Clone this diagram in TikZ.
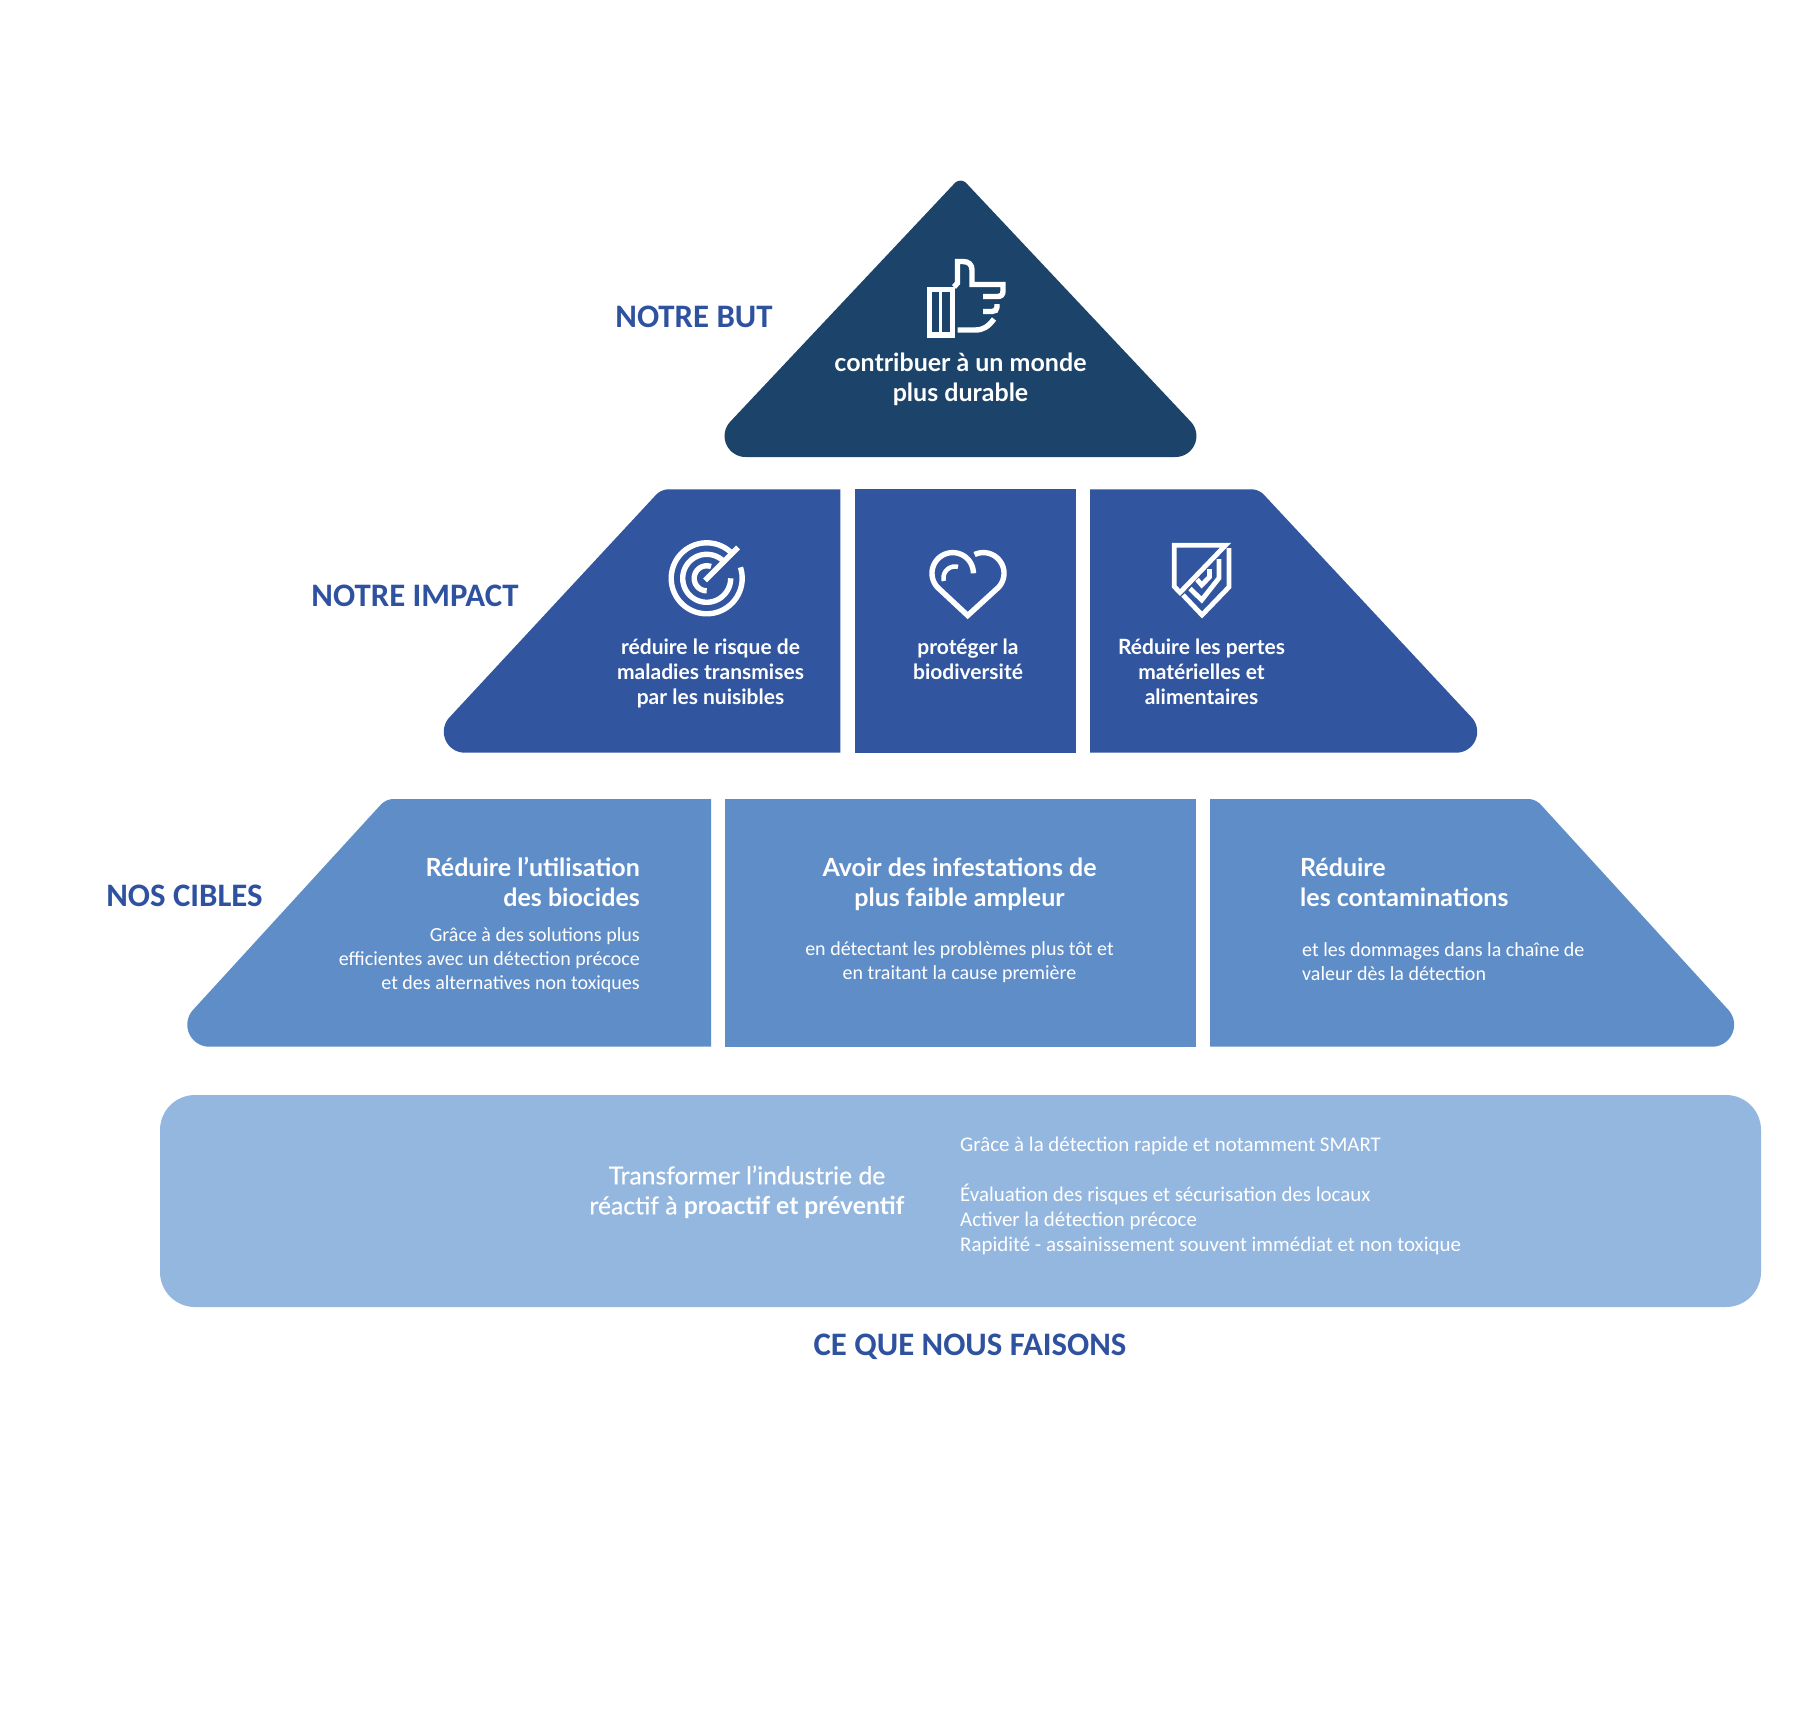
\documentclass[tikz,border=0pt]{standalone}
\usepackage{fontspec}
\setmainfont{Lato}
\newfontfamily\narrowfont{Carlito}
\newfontfamily\medfont[FakeBold=0.35]{Lato}
\definecolor{cDark}{HTML}{1C4369}
\definecolor{cMid}{HTML}{31569F}
\definecolor{cLight}{HTML}{5F8DC8}
\definecolor{cBase}{HTML}{94B7E0}
\definecolor{cLabel}{HTML}{2F52A0}
\tikzset{
  title/.style={text=cLabel,font=\narrowfont\fontsize{32.8}{34}\selectfont\bfseries,inner sep=0pt},
  headA/.style={text=white,font=\fontsize{25}{30}\selectfont\bfseries,inner sep=0pt,align=center},
  headB/.style={text=white,font=\fontsize{21}{25}\selectfont\bfseries,inner sep=0pt,align=center},
  headC/.style={text=white,font=\fontsize{25}{30}\selectfont\bfseries,inner sep=0pt},
  bodyT/.style={text=white,font=\narrowfont\fontsize{20}{24}\selectfont,inner sep=0pt},
  bodyU/.style={text=white,font=\narrowfont\fontsize{20.9}{25}\selectfont,inner sep=0pt},
  iconline/.style={draw=white,line width=5.4pt,fill=none,miter limit=10},
  arcm/.style n args={5}{insert path={plot[domain=#4:#5,samples=30] ({#1+#3*cos(\x)},{#2-#3*sin(\x)})}},
  arcl/.style n args={5}{insert path={-- plot[domain=#4:#5,samples=30] ({#1+#3*cos(\x)},{#2-#3*sin(\x)})}},
}
\begin{document}
\begin{tikzpicture}[x=1pt,y=-1pt]
\useasboundingbox (0,0) rectangle (1820,1731);
\fill[white] (0,0) rectangle (1820,1731);
% tier 1
\fill[cDark,arcm={745.6}{436}{21}{136.75}{270},arcl={1175.4}{436}{21}{-90}{43.25},arcl={960.5}{188.7}{8}{43.25}{136.75}] -- cycle;
% tier 2
\fill[cMid] (840.4,489.3) [arcl={669}{507.3}{18}{90}{137.1},arcl={464.8}{731.7}{21}{137.1}{270}] -- (840.4,752.7) -- cycle;
\fill[cMid] (854.7,489.3) rectangle (1075.6,752.7);
\fill[cMid] (1090,752.7) [arcl={1456.2}{731.7}{21}{-90}{42.9},arcl={1251}{507.3}{18}{42.9}{90}] -- (1090,489.3) -- cycle;
% tier 3
\fill[cLight] (711,799) [arcl={394}{817.2}{18.2}{90}{137.55},arcl={209.3}{1024.7}{22}{137.55}{270}] -- (711,1046.7) -- cycle;
\fill[cLight] (725,799) rectangle (1195.5,1046.7);
\fill[cLight] (1210,1046.7) [arcl={1712.1}{1024.7}{22}{-90}{42.45},arcl={1527.6}{817.2}{18.2}{42.45}{90}] -- (1210,799) -- cycle;
% base
\fill[cBase] [rounded corners=35pt] (160,1095) rectangle (1761,1307);
% labels
\node[title] (but) at (694,317) {NOTRE BUT};
\node[title] (impact) at (415,596) {NOTRE IMPACT};
\node[title] (cibles) at (184.5,896) {NOS CIBLES};
\node[title] (faisons) at (970,1347) {CE QUE NOUS FAISONS};
% tier 1 text
\node[headA] (t1) at (960.5,379.3) {contribuer à un monde\\plus durable};
% tier 2 text
\node[headB] (t2a) at (710.5,673) {réduire le risque de\\maladies transmises\\par les nuisibles};
\node[headB] (t2b) at (968,659.5) {protéger la\\biodiversité};
\node[headB] (t2c) at (1201.5,672) {Réduire les pertes\\matérielles et\\alimentaires};
% tier 3 text
\node[headC,anchor=east,align=right] (t3a) at (640,882) {Réduire l’utilisation\\des biocides};
\node[bodyT,anchor=east,align=right] (t3ab) at (640,960) {Grâce à des solutions plus\\efficientes avec un détection précoce\\et des alternatives non toxiques};
\node[headC,align=center] (t3b) at (959.5,884) {Avoir des infestations de\\plus faible ampleur};
\node[bodyT,align=center] (t3bb) at (959.5,962) {en détectant les problèmes plus tôt et\\en traitant la cause première};
\node[headC,anchor=west,align=left] (t3c) at (1300,882) {Réduire\\les contaminations};
\node[bodyT,anchor=west,align=left] (t3cb) at (1302,961.6) {et les dommages dans la chaîne de\\valeur dès la détection};
% base text
\node[headC,align=center,font=\medfont\fontsize{24.7}{30}\selectfont] (b1) at (747,1192) {Transformer l’industrie de\\réactif à {\normalfont\bfseries proactif et préventif}};
\node[bodyU,anchor=west,align=left] (b2) at (960,1196) {Grâce à la détection rapide et notamment SMART\\[25pt]Évaluation des risques et sécurisation des locaux\\Activer la détection précoce\\Rapidité - assainissement souvent immédiat et non toxique};
% thumb icon
\draw[iconline] (929.5,289.5) rectangle (952.5,335);
\draw[iconline,line width=3.5pt] (940.5,290) -- (940.5,335);
\draw[iconline] (954,287) -- (957.5,283) -- (957.5,261.5) -- (963,261.5) .. controls (969,261.5) and (972,265) .. (972,270) -- (972,284.5) -- (1003,284.5) -- (1003,291) .. controls (1003,295) and (1001,296.5) .. (997,296.5) -- (983,296.5);
\draw[iconline] (997,304) -- (997,307) .. controls (997,310) and (995,311.5) .. (992,311.5) -- (983,311.5);
\draw[iconline] (994,319) .. controls (988,327) and (983,330) .. (975,330) -- (957.5,330);
% target icon
\draw[iconline] plot[domain=48:378,samples=60] ({706.7+35.5*cos(\x)},{578.3-35.5*sin(\x)});
\draw[iconline] plot[domain=50:360,samples=60] ({706.7+24*cos(\x)},{578.3-24*sin(\x)});
\draw[iconline] plot[domain=70:270,samples=40] ({706.7+12.5*cos(\x)},{578.3-12.5*sin(\x)});
\draw[iconline] (705,580.5) -- (738,547.5);
% heart icon
\draw[iconline,line join=miter] plot[domain=0:222,samples=50] ({952.7+20.7*cos(\x)},{573.3-20.7*sin(\x)}) -- (967.7,615.5) -- plot[domain=-42:115,samples=40] ({983.3+20.7*cos(\x)},{573.3-20.7*sin(\x)});
\draw[iconline,line width=4.5pt] plot[domain=75:195,samples=30] ({955+11.5*cos(\x)},{578-11.5*sin(\x)});
% shield icon
\draw[iconline,line width=4.8pt] (1174.2,545.3) -- (1225.5,545.3) -- (1180,592.5) -- (1174.2,586.5) -- cycle;
\draw[iconline,line width=4.8pt] (1229,548) -- (1229,587) -- (1202,615) -- (1183,595);
\draw[iconline,line width=4.8pt] (1219,559) -- (1219,578) -- (1201.7,600) -- (1190,588.5);
\draw[iconline,line width=4.8pt] (1197,579.5) -- (1201.7,585) -- (1209.5,577) -- (1209.5,569);
\end{tikzpicture}
\end{document}
